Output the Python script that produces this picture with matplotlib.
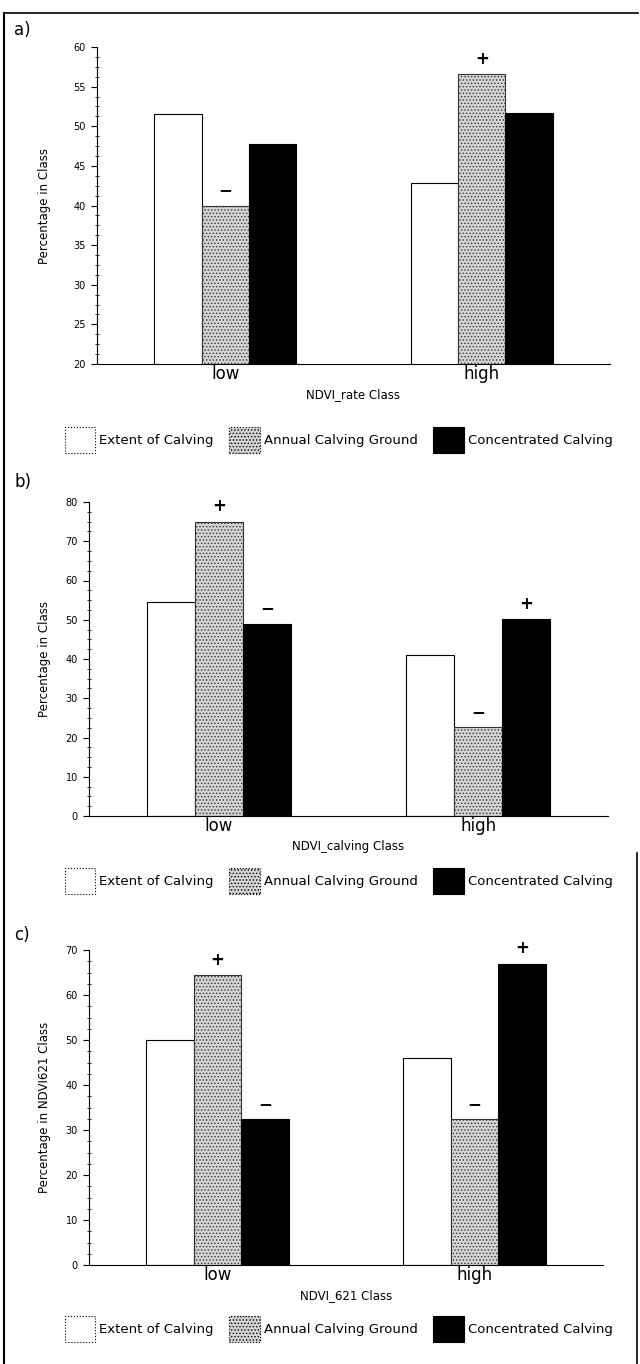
import matplotlib
matplotlib.use("Agg")
import matplotlib.pyplot as plt
from matplotlib.lines import Line2D
from matplotlib.patches import Patch
from matplotlib.ticker import MultipleLocator, AutoMinorLocator
import numpy as np

plt.rcParams["font.family"] = ["DejaVu Sans"]
plt.rcParams["hatch.color"] = "#444444"
plt.rcParams["hatch.linewidth"] = 0.6

classes = ["low", "high"]
series = ["Extent of Calving", "Annual Calving Ground", "Concentrated Calving"]

# panel a: NDVI_rate
a_extent = [51.6, 42.8]
a_annual = [40.0, 56.6]
a_conc = [47.7, 51.7]
a_signs = [["", "−", ""], ["", "+", ""]]

# panel b: NDVI_calving
b_extent = [54.6, 41.1]
b_annual = [75.0, 22.6]
b_conc = [49.0, 50.1]
b_signs = [["", "+", "−"], ["", "−", "+"]]

# panel c: NDVI_621
c_extent = [49.9, 46.0]
c_annual = [64.4, 32.4]
c_conc = [32.4, 67.0]
c_signs = [["", "+", "−"], ["", "−", "+"]]

H = 1364.0  # figure height in px, used for placing things like the scan

panels = [
    dict(tag="a)", vals=[a_extent, a_annual, a_conc], signs=a_signs,
         ylim=(20, 60), major=5, ylabel="Percentage in Class",
         xlabel="NDVI_rate Class", left=97, right=610, top=47, bottom=364,
         tag_y=30, leg_y=440),
    dict(tag="b)", vals=[b_extent, b_annual, b_conc], signs=b_signs,
         ylim=(0, 80), major=10, ylabel="Percentage in Class",
         xlabel="NDVI_calving Class", left=89, right=608, top=502, bottom=816,
         tag_y=482, leg_y=881),
    dict(tag="c)", vals=[c_extent, c_annual, c_conc], signs=c_signs,
         ylim=(0, 70), major=10, ylabel="Percentage in NDVI621 Class",
         xlabel="NDVI_621 Class", left=89, right=603, top=950, bottom=1265,
         tag_y=935, leg_y=1329),
]

styles = [
    dict(facecolor="white", edgecolor="black", hatch=None),
    dict(facecolor="#d4d4d4", edgecolor="#333333", hatch="....."),
    dict(facecolor="black", edgecolor="black", hatch=None),
]

fig = plt.figure(figsize=(6.4, 13.64), dpi=100)
x = np.arange(len(classes))
width = 0.185

for p in panels:
    rect = [p["left"] / 640, 1 - p["bottom"] / H,
            (p["right"] - p["left"]) / 640, (p["bottom"] - p["top"]) / H]
    ax = fig.add_axes(rect)
    for i, vals in enumerate(p["vals"]):
        st = styles[i]
        bars = ax.bar(x + (i - 1) * width, vals, width, facecolor=st["facecolor"],
                      edgecolor=st["edgecolor"], hatch=st["hatch"], linewidth=0.8)
        for j, b in enumerate(bars):
            s = p["signs"][j][i]
            if s:
                ax.annotate(s, xy=(b.get_x() + b.get_width() / 2, vals[j]),
                            xytext=(0, 11), textcoords="offset points",
                            ha="center", va="center", fontsize=12,
                            fontweight="bold")
    ax.set_xlim(-0.5, 1.5)
    ax.set_ylim(*p["ylim"])
    ax.yaxis.set_major_locator(MultipleLocator(p["major"]))
    ax.yaxis.set_minor_locator(AutoMinorLocator(4))
    ax.tick_params(axis="y", which="major", direction="out", length=4,
                   width=0.8, labelsize=7, pad=4)
    ax.tick_params(axis="y", which="minor", direction="inout", length=3, width=0.6)
    ax.set_xticks(x)
    ax.set_xticklabels(classes, fontsize=12)
    ax.tick_params(axis="x", length=0, pad=1)
    ax.spines["top"].set_visible(False)
    ax.spines["right"].set_visible(False)
    ax.spines["left"].set_linewidth(0.8)
    ax.spines["bottom"].set_linewidth(0.8)
    ax.set_ylabel(p["ylabel"], fontsize=8.5)
    ax.yaxis.set_label_coords((51 - p["left"]) / (p["right"] - p["left"]), 0.5)
    ax.set_xlabel(p["xlabel"], fontsize=8.5, labelpad=3)
    fig.text(0.022, 1 - p["tag_y"] / H, p["tag"], fontsize=12, ha="left", va="center")

    handles = [Patch(facecolor=st["facecolor"], edgecolor="black",
                     hatch=st["hatch"], linewidth=0.8, linestyle=":" if k < 2 else "-")
               for k, st in enumerate(styles)]
    fig.legend(handles, series, loc="center",
               bbox_to_anchor=(0.529, 1 - p["leg_y"] / H), ncol=3, frameon=False,
               fontsize=9.5, handlelength=2.3, handleheight=2.6,
               handletextpad=0.3, columnspacing=1.2, borderpad=0)

# page frame of the scanned figure
fig.add_artist(Line2D([0.006, 0.006], [0.0, 0.9905], color="black", lw=1.5))
fig.add_artist(Line2D([0.006, 0.997], [0.9905, 0.9905], color="black", lw=1.2))
fig.add_artist(Line2D([0.996, 0.996], [0.0, 0.375], color="black", lw=1.2))

fig.savefig("out.png", dpi=100)
